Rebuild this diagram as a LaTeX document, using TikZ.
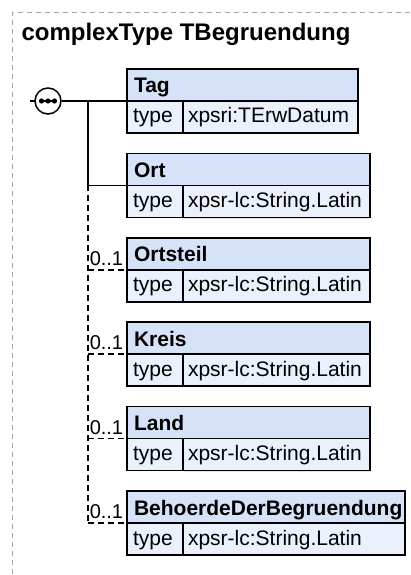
\documentclass[tikz,border=0pt]{standalone}
\usepackage{fontspec}
\setmainfont{Liberation Sans}
\usetikzlibrary{positioning, shadows}
\definecolor{headfill}{RGB}{214,226,247}
\definecolor{rowfill}{RGB}{234,240,252}
\definecolor{framegray}{RGB}{165,165,165}

\begin{document}
\begin{tikzpicture}[
  x=1pt, y=-1pt,
  font=\fontsize{21}{25}\selectfont,
  %--- element box parts: name row, type label cell, type value cell ---
  elname/.style={
    draw=black, fill=headfill, line width=1.5pt,
    anchor=north west, outer sep=0pt,
    inner xsep=7pt, inner ysep=0pt,
    text width=#1, align=left,
    text height=24pt, text depth=8pt,
    font=\fontsize{21}{25}\selectfont\bfseries,
    drop shadow={shadow xshift=1.2pt, shadow yshift=-1.2pt, fill=gray!45}
  },
  eltype/.style={
    draw=black, fill=rowfill, line width=1.5pt,
    anchor=north west, outer sep=0pt,
    inner xsep=6pt, inner ysep=0pt,
    text width=44pt, align=left,
    text height=22pt, text depth=10pt
  },
  elval/.style={
    draw=black, fill=rowfill, line width=1.5pt,
    anchor=north west, outer sep=0pt,
    inner xsep=5pt, inner ysep=0pt,
    text width=#1, align=left,
    text height=22pt, text depth=10pt,
    drop shadow={shadow xshift=1.2pt, shadow yshift=-1.2pt, fill=gray!45}
  },
  %--- connector styles ---
  seqline/.style={line width=1.5pt},
  optline/.style={line width=1.5pt, dash pattern=on 6pt off 4pt},
  occurs/.style={
    anchor=south west, inner xsep=1pt, inner ysep=3.5pt,
    font=\fontsize{20}{24}\selectfont
  }
]
\useasboundingbox (0,0) rectangle (410,575);

%------------------------------------------------------------------
%  Frame and title
%------------------------------------------------------------------
\draw[framegray, line width=1pt, dash pattern=on 5pt off 4pt]
  (410,12.5) -- (12.5,12.5) -- (12.5,575);

\node[anchor=base west, font=\fontsize{24}{29}\selectfont\bfseries]
  (title) at (18,41) {complexType TBegruendung};

%------------------------------------------------------------------
%  Element boxes (name row on top, type row below)
%------------------------------------------------------------------
\node[elname=217pt] (tag) at (127,69) {Tag};
\node[eltype] (tagtyp) at (tag.south west) {type};
\node[elval=165pt] (tagval) at (tagtyp.north east) {xpsri:TErwDatum};

\node[elname=229pt] (ort) at (127,153.4) {Ort};
\node[eltype] (orttyp) at (ort.south west) {type};
\node[elval=177pt] (ortval) at (orttyp.north east) {xpsr-lc:String.Latin};

\node[elname=229pt] (ortsteil) at (127,237.8) {Ortsteil};
\node[eltype] (ortsteiltyp) at (ortsteil.south west) {type};
\node[elval=177pt] (ortsteilval) at (ortsteiltyp.north east) {xpsr-lc:String.Latin};

\node[elname=229pt] (kreis) at (127,322.2) {Kreis};
\node[eltype] (kreistyp) at (kreis.south west) {type};
\node[elval=177pt] (kreisval) at (kreistyp.north east) {xpsr-lc:String.Latin};

\node[elname=229pt] (land) at (127,406.6) {Land};
\node[eltype] (landtyp) at (land.south west) {type};
\node[elval=177pt] (landval) at (landtyp.north east) {xpsr-lc:String.Latin};

\node[elname=264pt] (behoerde) at (127,491) {BehoerdeDerBegruendung};
\node[eltype] (behoerdetyp) at (behoerde.south west) {type};
\node[elval=212pt] (behoerdeval) at (behoerdetyp.north east) {xpsr-lc:String.Latin};

%------------------------------------------------------------------
%  Sequence compositor
%------------------------------------------------------------------
\coordinate (entry) at (30,101);
\coordinate (fork) at (88,101);
\draw[seqline] (entry) -- (48,101);
\node[draw, circle, fill=white, line width=1.5pt, minimum size=26pt, inner sep=0pt]
  (seq) at (48,101) {};
\draw[seqline] ([xshift=-7pt]seq.center) -- ([xshift=7pt]seq.center);
\foreach \dx in {-6.5,0,6.5}
  \fill ([xshift=\dx pt]seq.center) circle (2.6pt);

%------------------------------------------------------------------
%  Required children (solid)
%------------------------------------------------------------------
\draw[seqline] (seq.east) -- (tag.south west);
\draw[seqline] (fork) |- (ort.south west);

%------------------------------------------------------------------
%  Optional children (dashed, 0..1)
%------------------------------------------------------------------
\coordinate (optfork) at (fork |- ort.south west);
\draw[optline] (optfork) -- (optfork |- behoerde.south west);
\foreach \el in {ortsteil, kreis, land, behoerde}
  \draw[optline] (optfork |- \el.south west) -- (\el.south west)
    node[occurs, at start] {0..1};

\end{tikzpicture}
\end{document}
